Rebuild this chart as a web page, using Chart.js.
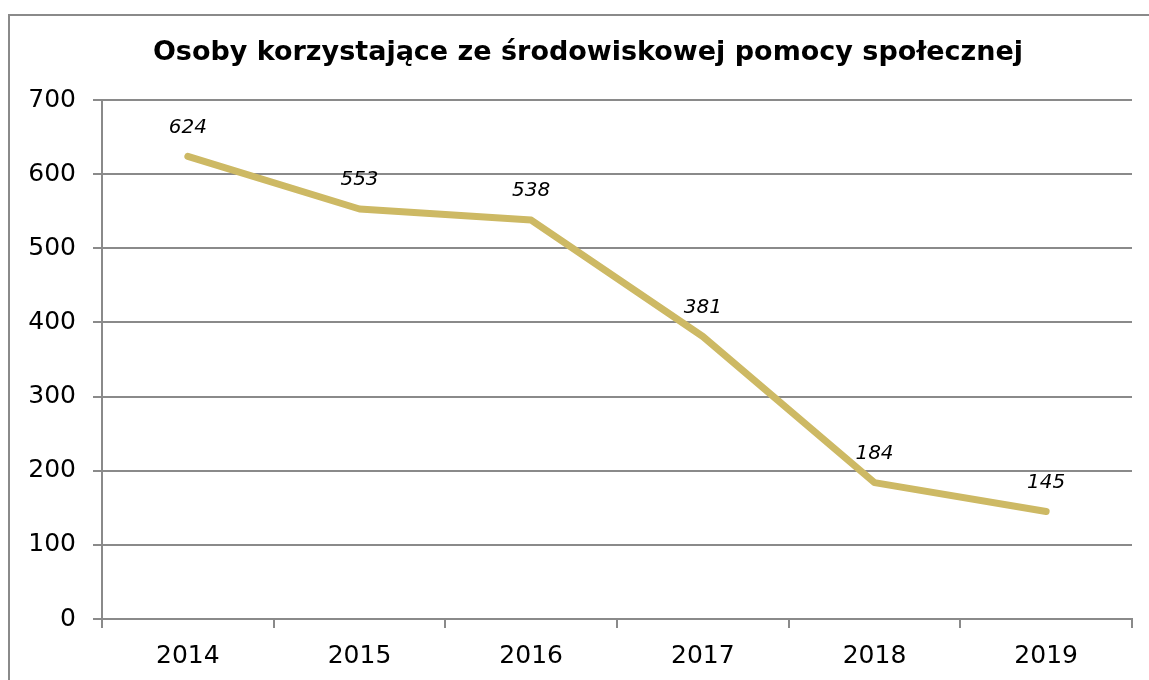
<!DOCTYPE html>
<html>
<head>
<meta charset="utf-8">
<script src="https://cdn.jsdelivr.net/npm/chart.js@4"></script>
<style>
  html, body { margin: 0; padding: 0; background: #fff; }
  #wrap { width: 1149px; height: 680px; position: relative; }
</style>
</head>
<body>
<div id="wrap"><canvas id="chart"></canvas></div>
<script>
// Data
const years = ["2014", "2015", "2016", "2017", "2018", "2019"];
const persons = [624, 553, 538, 381, 184, 145];
const yTicks = [0, 100, 200, 300, 400, 500, 600, 700];

const titleText = "Osoby korzystające ze środowiskowej pomocy społecznej";
const gridColor = "#8a8a8a";
const lineColor = "rgb(205, 185, 100)";

// outer frame of the chart (cropped on the right and bottom) + title
const framePlugin = {
  id: "frame",
  beforeDraw(chart) {
    const ctx = chart.ctx;
    ctx.save();
    ctx.strokeStyle = "#8a8a8a";
    ctx.lineWidth = 2;
    ctx.strokeRect(9, 15, 1200, 700);
    // title, centred over the whole frame rather than the canvas
    ctx.font = "bold 27px 'DejaVu Sans'";
    ctx.fillStyle = "#000";
    ctx.textAlign = "center";
    ctx.textBaseline = "middle";
    ctx.fillText(titleText, 588, 53);
    ctx.restore();
  }
};

// value labels above each point
const valueLabels = {
  id: "valueLabels",
  afterDatasetsDraw(chart) {
    const ctx = chart.ctx;
    const meta = chart.getDatasetMeta(0);
    ctx.save();
    ctx.font = "italic 20px 'DejaVu Sans'";
    ctx.fillStyle = "#000";
    ctx.textAlign = "center";
    ctx.textBaseline = "middle";
    meta.data.forEach((pt, i) => {
      ctx.fillText(persons[i], pt.x, pt.y - 29);
    });
    ctx.restore();
  }
};

const ctx = document.getElementById("chart").getContext("2d");
new Chart(ctx, {
  type: "line",
  data: {
    labels: years,
    datasets: [{
      data: persons,
      borderColor: lineColor,
      borderWidth: 7,
      borderCapStyle: "round",
      borderJoinStyle: "round",
      pointRadius: 0,
      tension: 0,
      fill: false
    }]
  },
  options: {
    responsive: true,
    maintainAspectRatio: false,
    animation: false,
    layout: { padding: { left: 0, right: 17, top: 100, bottom: 0 } },
    plugins: {
      legend: { display: false },
      tooltip: { enabled: false },
      title: { display: false }
    },
    scales: {
      x: {
        offset: true,
        grid: {
          offset: true,
          drawOnChartArea: false,
          drawTicks: true,
          tickLength: 9,
          color: gridColor,
          lineWidth: 2
        },
        border: { display: true, color: gridColor, width: 2 },
        ticks: {
          color: "#000",
          font: { family: "'DejaVu Sans'", size: 25 },
          padding: 13
        },
        afterFit(scale) { scale.height = 61; }
      },
      y: {
        min: 0,
        max: 700,
        afterBuildTicks(scale) {
          scale.ticks = yTicks.map(v => ({ value: v }));
        },
        grid: {
          color: gridColor,
          lineWidth: 2,
          tickLength: 9
        },
        border: { display: true, color: gridColor, width: 2 },
        ticks: {
          color: "#000",
          font: { family: "'DejaVu Sans'", size: 25 },
          padding: 17
        },
        afterFit(scale) { scale.width = 102; }
      }
    }
  },
  plugins: [framePlugin, valueLabels]
});
</script>
</body>
</html>
